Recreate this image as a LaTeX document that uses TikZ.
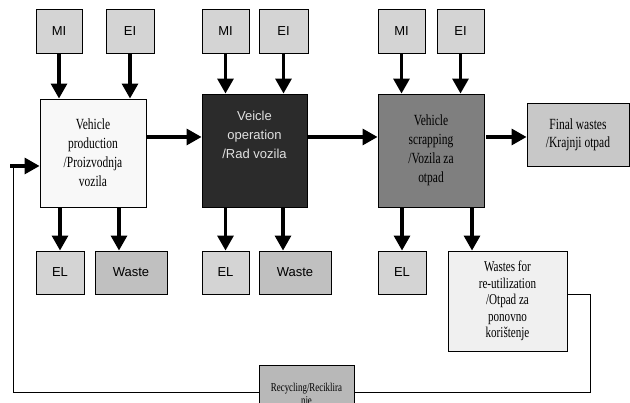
\documentclass[tikz,border=0pt]{standalone}
\usepackage{fontspec}
\setmainfont[FakeStretch=0.74]{Liberation Serif}
\setsansfont{Liberation Sans}
\definecolor{inputgray}{RGB}{212,212,212}
\definecolor{wastegray}{RGB}{192,192,192}
\definecolor{prodfill}{RGB}{248,248,248}
\definecolor{operfill}{RGB}{43,43,43}
\definecolor{operText}{RGB}{225,225,225}
\definecolor{scrapfill}{RGB}{127,127,127}
\definecolor{finalgray}{RGB}{200,200,200}
\definecolor{reusefill}{RGB}{240,240,240}
\definecolor{recycgray}{RGB}{184,184,184}
\usetikzlibrary{arrows.meta, calc}

\begin{document}
\begin{tikzpicture}[x=1pt, y=-1pt,
  box/.style={draw=black, line width=0.9pt, align=center, inner sep=2pt},
  small/.style={box, fill=inputgray, minimum height=44pt,
    font=\sffamily\fontsize{13}{15}\selectfont},
  stage/.style={box, minimum width=106pt, minimum height=110pt,
    font=\fontsize{15.5}{19}\selectfont},
  flow/.style={-{Triangle[length=15pt,width=16pt]}, line width=3.2pt},
  backline/.style={line width=0.9pt},
]
  \useasboundingbox (0,0) rectangle (630,403);

  \node[stage, fill=prodfill, minimum height=108pt] (prod) at (93,153)
    {Vehicle\\production\\/Proizvodnja\\vozila};
  \node[stage, fill=operfill, text=operText, minimum width=105pt, minimum height=113pt,
    font=\sffamily\fontsize{13}{19}\selectfont] (oper) at (254.5,150.5)
    {Veicle\\operation\\/Rad vozila\\[12pt]};
  \node[stage, fill=scrapfill, minimum height=113pt] (scrap) at (431,150.5)
    {Vehicle\\scrapping\\/Vozila za\\otpad};
  \node[box, fill=finalgray, minimum width=102pt, minimum height=63pt,
    font=\fontsize{15.5}{18}\selectfont] (final) at (578,134.5)
    {Final wastes\\/Krajnji otpad};

  \node[small, minimum width=46pt] (mi1) at (59,31) {MI};
  \node[small, minimum width=48pt] (ei1) at (130,31) {EI};
  \node[small, minimum width=47pt] (mi2) at (225.5,31) {MI};
  \node[small, minimum width=49pt] (ei2) at (283.5,31) {EI};
  \node[small, minimum width=47pt] (mi3) at (401.5,31) {MI};
  \node[small, minimum width=47pt] (ei3) at (460.5,31) {EI};

  \node[small, minimum width=48pt, minimum height=43pt] (el1) at (60,272.5) {EL};
  \node[small, fill=wastegray, minimum width=72pt, minimum height=43pt] (waste1) at (131,272.5) {Waste};
  \node[small, minimum width=47pt, minimum height=43pt] (el2) at (225.5,272.5) {EL};
  \node[small, fill=wastegray, minimum width=72pt, minimum height=43pt] (waste2) at (295,272.5) {Waste};
  \node[small, minimum width=48pt, minimum height=43pt] (el3) at (402,272.5) {EL};
  \node[box, fill=reusefill, minimum width=119pt, minimum height=100pt,
    font=\fontsize{15}{16.5}\selectfont] (reuse) at (507.5,301)
    {Wastes for\\re-utilization\\/Otpad za\\ponovno\\korištenje};
  \node[box, fill=recycgray, minimum width=95pt, minimum height=60pt,
    font=\fontsize{12}{13.5}\selectfont] (recyc) at (306.5,395)
    {Recycling/Reciklira\\nje};

  \draw[flow] (mi1) -- (mi1 |- prod.north);
  \draw[flow] (ei1) -- (ei1 |- prod.north);
  \draw[flow] (mi2) -- (mi2 |- oper.north);
  \draw[flow] (ei2) -- (ei2 |- oper.north);
  \draw[flow] (mi3) -- (mi3 |- scrap.north);
  \draw[flow] (ei3) -- (ei3 |- scrap.north);

  \coordinate (w1in) at ([xshift=-12pt]waste1.north);
  \coordinate (w2in) at ([xshift=-12pt]waste2.north);
  \coordinate (rin) at ([xshift=-35.5pt]reuse.north);
  \draw[flow] (prod.south -| el1) -- (el1);
  \draw[flow] (prod.south -| w1in) -- (w1in);
  \draw[flow] (oper.south -| el2) -- (el2);
  \draw[flow] (oper.south -| w2in) -- (w2in);
  \draw[flow] (scrap.south -| el3) -- (el3);
  \draw[flow] (scrap.south -| rin) -- (rin);

  \coordinate (mainline) at (0,137);
  \draw[flow] (prod.east |- mainline) -- (oper.west |- mainline);
  \draw[flow] (oper.east |- mainline) -- (scrap.west |- mainline);
  \draw[flow] ([xshift=2pt]scrap.east |- mainline) -- (final.west |- mainline);

  \coordinate (bend) at (590,392);
  \coordinate (retin) at (13,166);
  \draw[backline] ([yshift=7pt]reuse.east) -| (bend) -- (recyc.east |- bend);
  \draw[backline] (recyc.west |- bend) -| (retin);
  \draw[flow] ([xshift=-3pt]retin) -- (prod.west |- retin);
\end{tikzpicture}
\end{document}
